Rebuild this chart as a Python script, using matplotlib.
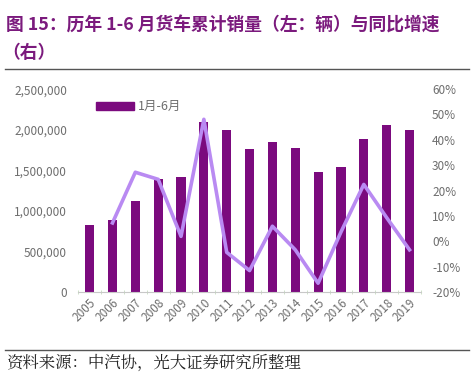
import matplotlib.pyplot as plt
import matplotlib.ticker as mticker
from matplotlib.patches import Patch

plt.rcParams['font.family'] = ['Noto Sans CJK SC', 'DejaVu Sans']

# 1-6月货车累计销量（辆）与同比增速（%）
years = ['2005', '2006', '2007', '2008', '2009', '2010', '2011', '2012',
         '2013', '2014', '2015', '2016', '2017', '2018', '2019']
sales = [825000, 887000, 1124000, 1392000, 1416000, 2097000, 1995000, 1757000,
         1851000, 1777000, 1481000, 1535000, 1884000, 2060000, 1995000]
yoy_years = years[1:]
yoy = [7.2, 27.2, 24.4, 1.9, 48.1, -4.4, -11.6, 5.9, -3.4, -16.6, 3.6, 22.4, 9.3, -3.4]

bar_color = '#7b0a7e'
line_color = '#b98af2'
tick_color = '#6e6e6e'

fig = plt.figure(figsize=(4.74, 3.81), dpi=100)
ax = fig.add_axes([0.165, 0.234, 0.723, 0.532])
ax2 = ax.twinx()

x = list(range(len(years)))
ax.bar(x, sales, width=0.4, color=bar_color, zorder=2)
ax2.plot([years.index(y) for y in yoy_years], yoy, color=line_color, lw=2.6, zorder=3)

ax.set_xlim(-0.5, len(years) - 0.5)
ax.set_ylim(0, 2500000)
ax.set_yticks(range(0, 2500001, 500000))
ax.yaxis.set_major_formatter(mticker.FuncFormatter(lambda v, p: f'{int(v):,}'))
ax2.set_ylim(-20, 60)
ax2.set_yticks(range(-20, 61, 10))
ax2.yaxis.set_major_formatter(mticker.FuncFormatter(lambda v, p: f'{int(v)}%'))

ax.set_xticks(x)
ax.set_xticklabels(years, rotation=45, ha='right', rotation_mode='anchor')
ax.set_xticks([i + 0.5 for i in range(-1, len(years))], minor=True)

for a in (ax, ax2):
    for s in a.spines.values():
        s.set_visible(False)
    a.tick_params(axis='y', length=0, labelsize=8.5, labelcolor=tick_color)
ax.spines['bottom'].set_visible(True)
ax.spines['bottom'].set_color('#c8c8c8')
ax.tick_params(axis='x', which='major', length=0, labelsize=8.5, labelcolor=tick_color, pad=3)
ax.tick_params(axis='x', which='minor', length=3, color='#c6dcc0', direction='inout')
ax.tick_params(axis='y', pad=8)
ax2.tick_params(axis='y', pad=8)

ax.legend(handles=[Patch(color=bar_color, label='1月-6月')], loc='upper left',
          bbox_to_anchor=(0.02, 1.0), frameon=False, fontsize=9,
          handlelength=3.0, handleheight=0.5, handletextpad=0.3, labelcolor=tick_color)

fig.text(0.012, 0.934, '图 15：历年 1-6 月货车累计销量（左：辆）与同比增速',
         fontsize=12.8, fontweight='bold', color='#7b1a7d', va='center')
fig.text(0.004, 0.862, '（右）', fontsize=12.8, fontweight='bold', color='#7b1a7d', va='center')
fig.add_artist(plt.Line2D([0.01, 0.99], [0.818, 0.818], color='#555555', lw=1))
fig.add_artist(plt.Line2D([0.01, 0.99], [0.082, 0.082], color='#555555', lw=1))
fig.text(0.012, 0.048, '资料来源：中汽协，光大证券研究所整理', fontsize=11.8, color='#222222',
         va='center', fontfamily=['Noto Serif CJK SC', 'Noto Sans CJK SC', 'DejaVu Sans'])

fig.savefig('out.png', dpi=100)
